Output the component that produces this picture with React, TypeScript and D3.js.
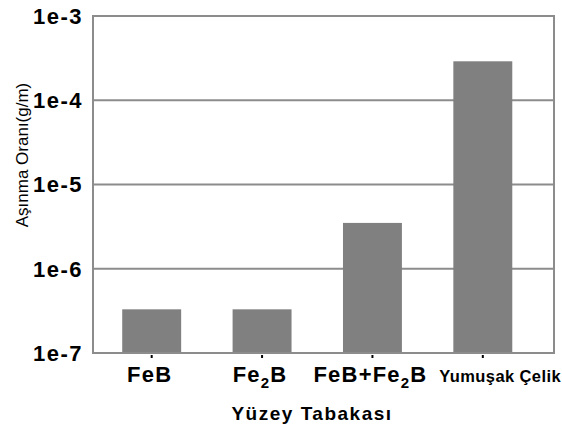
import React from "react";
import * as d3 from "d3";

const categories = ["FeB", "Fe2B", "FeB+Fe2B", "Yumuşak Çelik"];
const values = [3.3e-7, 3.3e-7, 3.5e-6, 2.9e-4];
const yTicks = [1e-7, 1e-6, 1e-5, 1e-4, 1e-3];
const yTitle = "Aşınma Oranı(g/m)";
const xTitle = "Yüzey Tabakası";

const W = 562;
const H = 429;
const plot = { left: 93, right: 554, top: 16, bottom: 353 };
const FONT = "Arial, 'Liberation Sans', sans-serif";

function renderLabel(s: string) {
  const parts = s.split(/(?<=Fe)2/);
  const out: React.ReactNode[] = [];
  parts.forEach((p, i) => {
    out.push(
      <tspan key={"p" + i} dy={i > 0 ? -6 : undefined}>
        {p}
      </tspan>
    );
    if (i < parts.length - 1) {
      out.push(
        <tspan key={"s" + i} fontSize="15" dy="6">
          2
        </tspan>
      );
    }
  });
  return out;
}

export default function App() {
  const y = d3.scaleLog().domain([1e-7, 1e-3]).range([plot.bottom, plot.top]);
  const x = d3
    .scaleBand<string>()
    .domain(categories)
    .range([96.5, 538])
    .paddingInner(0.466)
    .paddingOuter(0.233);
  const fmt = (d: number) => `1e${Math.round(Math.log10(d))}`;
  const grid = "#8c8c8c";

  return (
    <svg
      width={W}
      height={H}
      style={{ position: "absolute", left: 0, top: 0, background: "#fff" }}
    >
      <rect x={0} y={0} width={W} height={H} fill="#fff" />
      {yTicks.slice(1, -1).map((t) => (
        <line
          key={"g" + t}
          x1={plot.left}
          x2={plot.right}
          y1={y(t)}
          y2={y(t)}
          stroke={grid}
          strokeWidth={2}
        />
      ))}
      {categories.map((c, i) => (
        <rect
          key={c}
          x={x(c)}
          y={y(values[i])}
          width={x.bandwidth()}
          height={plot.bottom - y(values[i])}
          fill="#808080"
        />
      ))}
      <rect
        x={plot.left}
        y={plot.top}
        width={plot.right - plot.left}
        height={plot.bottom - plot.top}
        fill="none"
        stroke={grid}
        strokeWidth={2}
      />
      {categories.map((c) => {
        const cx = (x(c) as number) + x.bandwidth() / 2;
        return (
          <line
            key={"t" + c}
            x1={cx}
            x2={cx}
            y1={plot.bottom + 2}
            y2={plot.bottom + 5}
            stroke="#000"
            strokeWidth={2}
          />
        );
      })}
      {yTicks.map((t) => (
        <text
          key={"l" + t}
          x={83}
          y={y(t)}
          dy="0.36em"
          textAnchor="end"
          fontFamily={FONT}
          fontSize={22}
          fontWeight="bold"
          letterSpacing={1.5}
          fill="#000"
        >
          {fmt(t)}
        </text>
      ))}
      {categories.map((c, i) => {
        const cx = (x(c) as number) + x.bandwidth() / 2;
        const small = c.length > 10;
        const last = i === categories.length - 1;
        return (
          <text
            key={"c" + c}
            x={last ? W - 1 : cx - 2}
            y={382}
            textAnchor={last ? "end" : "middle"}
            fontFamily={FONT}
            fontSize={small ? 16.5 : 22}
            fontWeight="bold"
            letterSpacing={small ? 0.4 : 1.2}
            fill="#000"
          >
            {renderLabel(c)}
          </text>
        );
      })}
      <text
        x={312}
        y={420}
        textAnchor="middle"
        fontFamily={FONT}
        fontSize={19}
        fontWeight="bold"
        letterSpacing={1.5}
        fill="#000"
      >
        {xTitle}
      </text>
      <text
        transform="translate(28,155) rotate(-90)"
        textAnchor="middle"
        fontFamily={FONT}
        fontSize={17}
        fill="#000"
      >
        {yTitle}
      </text>
    </svg>
  );
}
